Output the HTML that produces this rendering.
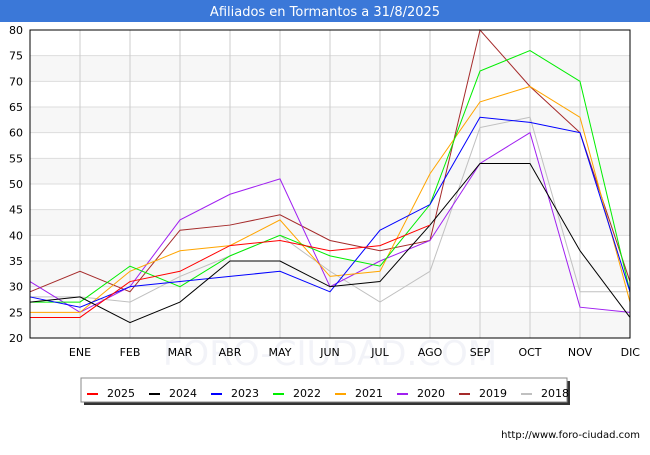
<!DOCTYPE html>
<html><head><meta charset="utf-8"><style>
body{margin:0;background:#fff;font-family:"Liberation Sans","DejaVu Sans",sans-serif;}
svg text{font-family:"DejaVu Sans","Liberation Sans",sans-serif;}
</style></head><body>
<svg id="chart" width="650" height="450" xmlns="http://www.w3.org/2000/svg">
<rect x="0" y="0" width="650" height="22" fill="#3b78d8"/>
<text x="325" y="16" text-anchor="middle" font-size="13" fill="#fff">Afiliados en Tormantos a 31/8/2025</text>
<g id="bands"></g><g id="grid"></g>
<text x="330" y="365" text-anchor="middle" font-size="34" fill="#f2f3f8">FORO-CIUDAD.COM</text>
<g id="series"></g>
<rect x="30" y="30" width="600" height="308" fill="none" stroke="#000" stroke-width="1"/>
<g id="axes"></g>
<rect x="84" y="381" width="486" height="24" fill="#333"/>
<rect x="81" y="378" width="486" height="24" fill="#fff" stroke="#888"/>
<g id="legend"></g>
<text x="640" y="438" text-anchor="end" font-size="10" fill="#000">http://www.foro-ciudad.com</text>
</svg>
<script>
const months = ["ENE","FEB","MAR","ABR","MAY","JUN","JUL","AGO","SEP","OCT","NOV","DIC"];
const yTicks = [20,25,30,35,40,45,50,55,60,65,70,75,80];
const seriesNames = ["2025","2024","2023","2022","2021","2020","2019","2018"];
const seriesColors = ["#ff0000","#000000","#0000ff","#00ee00","#ffa500","#a020f0","#a52a2a","#c0c0c0"];
const s2025 = [24,24,31,33,38,39,37,38,42];
const s2024 = [27,28,23,27,35,35,30,31,42,54,54,37,24];
const s2023 = [28,26,30,31,32,33,29,41,46,63,62,60,29];
const s2022 = [27,27,34,30,36,40,36,34,46,72,76,70,29];
const s2021 = [25,25,33,37,38,43,32,33,52,66,69,63,27];
const s2020 = [31,25,30,43,48,51,30,35,39,54,60,26,25];
const s2019 = [29,33,29,41,42,44,39,37,39,80,69,60,31];
const s2018 = [28,28,27,32,36,40,33,27,33,61,63,29,29];
const allSeries = [s2025,s2024,s2023,s2022,s2021,s2020,s2019,s2018];

const NS="http://www.w3.org/2000/svg";
const X0=30,X1=630,Y0=338,Y1=30,YMIN=20,YMAX=80;
function xs(i){return X0+i*(X1-X0)/12;}
function ys(v){return Y0-(v-YMIN)*(Y0-Y1)/(YMAX-YMIN);}
function mk(tag,attrs,parent){const e=document.createElementNS(NS,tag);for(const k in attrs)e.setAttribute(k,attrs[k]);parent.appendChild(e);return e;}
const bands=document.getElementById('bands'),grid=document.getElementById('grid'),axes=document.getElementById('axes'),series=document.getElementById('series'),legend=document.getElementById('legend');
for(let k=0;k<yTicks.length-1;k++){
  if(k%2===0){const r=mk('rect',{x:X0,y:ys(yTicks[k+1]),width:X1-X0,height:ys(yTicks[k])-ys(yTicks[k+1]),fill:'#f7f7f7'},bands);
  
  }
}
yTicks.forEach(v=>{
  const l=mk('line',{x1:X0,x2:X1,y1:ys(v),y2:ys(v),stroke:'#dddddd'},grid);
  
  
  const t=mk('text',{x:X0-7,y:ys(v)+4,'text-anchor':'end','font-size':'11',fill:'#000'},axes);t.textContent=v;
  
  
});
months.forEach((m,i)=>{
  const x=xs(i+1);
  const l=mk('line',{x1:x,x2:x,y1:Y1,y2:Y0,stroke:'#cccccc'},grid);
  
  
  const t=mk('text',{x:x,y:356,'text-anchor':(i===11?'end':'middle'),'font-size':'11',fill:'#000'},axes);t.textContent=m;
  if(i===11)t.setAttribute('x',x+10);
  
  
});
for(let s=allSeries.length-1;s>=0;s--){
  const pts=allSeries[s].map((v,i)=>xs(i)+','+ys(v)).join(' ');
  const p=mk('polyline',{points:pts,fill:'none',stroke:seriesColors[s],'stroke-width':'1'},series);
  
  
}
seriesNames.forEach((n,s)=>{
  const x=87+s*62;
  const l=mk('line',{x1:x,x2:x+11,y1:394,y2:394,stroke:seriesColors[s],'stroke-width':'2'},legend);
  
  
  const t=mk('text',{x:x+20,y:397,'font-size':'11',fill:'#000'},legend);t.textContent=n;
  
  
});
</script>
</body></html>
